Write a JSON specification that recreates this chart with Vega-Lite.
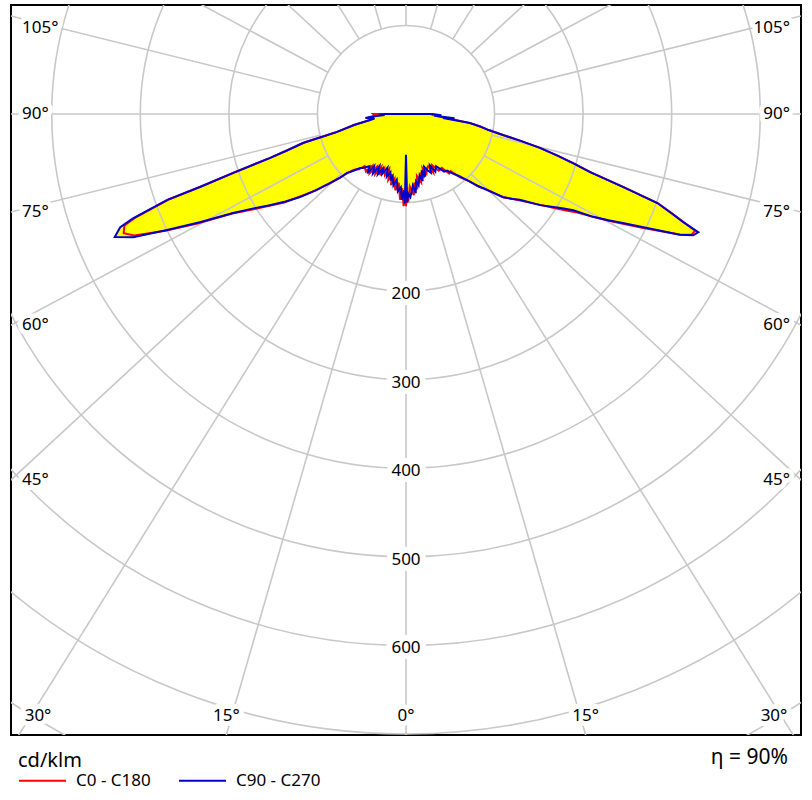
{
  "$schema": "https://vega.github.io/schema/vega-lite/v6.json",
  "width": 790,
  "height": 730,
  "autosize": {"type": "none"},
  "padding": {"left": 11, "top": 5, "right": 11, "bottom": 65},
  "background": "white",
  "config": {
    "view": {"stroke": "#000000", "strokeWidth": 2},
    "font": "Noto Sans",
    "legend": {
      "padding": 0,
      "titleFont": "Noto Sans",
      "titleFontSize": 20,
      "titleFontWeight": "normal",
      "titleColor": "#000000",
      "labelFont": "Noto Sans",
      "labelFontSize": 17,
      "labelColor": "#000000"
    }
  },
  "title": {
    "text": "η = 90%",
    "orient": "bottom",
    "anchor": "end",
    "font": "Noto Sans",
    "fontSize": 21,
    "fontWeight": "normal",
    "color": "#000000",
    "offset": -42,
    "dx": -13
  },
  "datasets": {
    "curve": [
      {"c": "C90 - C270", "g": -92, "I": 0},
      {"c": "C90 - C270", "g": -90, "I": 24},
      {"c": "C90 - C270", "g": -88.5, "I": 30},
      {"c": "C90 - C270", "g": -87.3, "I": 24},
      {"c": "C90 - C270", "g": -85.5, "I": 40},
      {"c": "C90 - C270", "g": -84.4, "I": 46},
      {"c": "C90 - C270", "g": -82, "I": 36},
      {"c": "C90 - C270", "g": -80.5, "I": 41},
      {"c": "C90 - C270", "g": -78, "I": 60},
      {"c": "C90 - C270", "g": -75.4, "I": 81},
      {"c": "C90 - C270", "g": -74.3, "I": 121},
      {"c": "C90 - C270", "g": -73, "I": 140},
      {"c": "C90 - C270", "g": -72.1, "I": 161},
      {"c": "C90 - C270", "g": -71.2, "I": 206},
      {"c": "C90 - C270", "g": -70.5, "I": 247},
      {"c": "C90 - C270", "g": -70.2, "I": 287},
      {"c": "C90 - C270", "g": -69.1, "I": 330},
      {"c": "C90 - C270", "g": -68.4, "I": 347},
      {"c": "C90 - C270", "g": -67.1, "I": 357},
      {"c": "C90 - C270", "g": -65.7, "I": 338},
      {"c": "C90 - C270", "g": -64.1, "I": 300},
      {"c": "C90 - C270", "g": -62.3, "I": 263},
      {"c": "C90 - C270", "g": -60.2, "I": 225},
      {"c": "C90 - C270", "g": -58, "I": 200},
      {"c": "C90 - C270", "g": -56.2, "I": 185},
      {"c": "C90 - C270", "g": -54, "I": 168},
      {"c": "C90 - C270", "g": -51.9, "I": 152},
      {"c": "C90 - C270", "g": -49.8, "I": 133},
      {"c": "C90 - C270", "g": -47.8, "I": 116},
      {"c": "C90 - C270", "g": -46, "I": 104},
      {"c": "C90 - C270", "g": -45, "I": 94},
      {"c": "C90 - C270", "g": -43, "I": 88},
      {"c": "C90 - C270", "g": -40.4, "I": 80},
      {"c": "C90 - C270", "g": -38.5, "I": 78},
      {"c": "C90 - C270", "g": -35, "I": 72},
      {"c": "C90 - C270", "g": -33, "I": 80},
      {"c": "C90 - C270", "g": -31.4, "I": 69},
      {"c": "C90 - C270", "g": -29, "I": 77},
      {"c": "C90 - C270", "g": -27, "I": 66},
      {"c": "C90 - C270", "g": -25, "I": 75},
      {"c": "C90 - C270", "g": -23, "I": 67},
      {"c": "C90 - C270", "g": -21.6, "I": 73},
      {"c": "C90 - C270", "g": -19, "I": 64},
      {"c": "C90 - C270", "g": -17, "I": 74},
      {"c": "C90 - C270", "g": -15, "I": 68},
      {"c": "C90 - C270", "g": -13, "I": 77},
      {"c": "C90 - C270", "g": -12, "I": 72},
      {"c": "C90 - C270", "g": -10, "I": 82},
      {"c": "C90 - C270", "g": -8, "I": 75},
      {"c": "C90 - C270", "g": -6, "I": 88},
      {"c": "C90 - C270", "g": -4, "I": 83},
      {"c": "C90 - C270", "g": -2.8, "I": 97},
      {"c": "C90 - C270", "g": -1.5, "I": 86},
      {"c": "C90 - C270", "g": -0.8, "I": 101},
      {"c": "C90 - C270", "g": 0, "I": 46},
      {"c": "C90 - C270", "g": 0.8, "I": 100},
      {"c": "C90 - C270", "g": 1.5, "I": 90},
      {"c": "C90 - C270", "g": 3, "I": 94},
      {"c": "C90 - C270", "g": 5.5, "I": 81},
      {"c": "C90 - C270", "g": 7, "I": 90},
      {"c": "C90 - C270", "g": 8.5, "I": 77},
      {"c": "C90 - C270", "g": 10, "I": 82},
      {"c": "C90 - C270", "g": 12.5, "I": 71},
      {"c": "C90 - C270", "g": 14, "I": 78},
      {"c": "C90 - C270", "g": 15.5, "I": 66},
      {"c": "C90 - C270", "g": 17, "I": 74},
      {"c": "C90 - C270", "g": 19, "I": 63},
      {"c": "C90 - C270", "g": 21, "I": 68},
      {"c": "C90 - C270", "g": 23, "I": 72},
      {"c": "C90 - C270", "g": 25, "I": 64},
      {"c": "C90 - C270", "g": 27, "I": 73},
      {"c": "C90 - C270", "g": 30, "I": 68},
      {"c": "C90 - C270", "g": 33.5, "I": 78},
      {"c": "C90 - C270", "g": 36, "I": 79},
      {"c": "C90 - C270", "g": 38, "I": 85},
      {"c": "C90 - C270", "g": 40.5, "I": 92},
      {"c": "C90 - C270", "g": 43.3, "I": 105},
      {"c": "C90 - C270", "g": 45, "I": 115},
      {"c": "C90 - C270", "g": 46.8, "I": 125},
      {"c": "C90 - C270", "g": 49.4, "I": 144},
      {"c": "C90 - C270", "g": 51, "I": 152},
      {"c": "C90 - C270", "g": 53, "I": 161},
      {"c": "C90 - C270", "g": 55.8, "I": 183},
      {"c": "C90 - C270", "g": 57.5, "I": 195},
      {"c": "C90 - C270", "g": 58.9, "I": 206},
      {"c": "C90 - C270", "g": 60.1, "I": 218},
      {"c": "C90 - C270", "g": 61.2, "I": 241},
      {"c": "C90 - C270", "g": 62.3, "I": 258},
      {"c": "C90 - C270", "g": 63.3, "I": 274},
      {"c": "C90 - C270", "g": 64.3, "I": 293},
      {"c": "C90 - C270", "g": 65.2, "I": 312},
      {"c": "C90 - C270", "g": 66.2, "I": 338},
      {"c": "C90 - C270", "g": 67.1, "I": 352},
      {"c": "C90 - C270", "g": 68, "I": 356},
      {"c": "C90 - C270", "g": 68.7, "I": 336},
      {"c": "C90 - C270", "g": 69.5, "I": 320},
      {"c": "C90 - C270", "g": 70.5, "I": 301},
      {"c": "C90 - C270", "g": 71.4, "I": 259},
      {"c": "C90 - C270", "g": 72.5, "I": 218},
      {"c": "C90 - C270", "g": 73.6, "I": 197},
      {"c": "C90 - C270", "g": 74.6, "I": 178},
      {"c": "C90 - C270", "g": 75.8, "I": 156},
      {"c": "C90 - C270", "g": 76.8, "I": 133},
      {"c": "C90 - C270", "g": 77.8, "I": 112},
      {"c": "C90 - C270", "g": 79, "I": 95},
      {"c": "C90 - C270", "g": 80.5, "I": 85},
      {"c": "C90 - C270", "g": 82, "I": 73},
      {"c": "C90 - C270", "g": 83.8, "I": 42},
      {"c": "C90 - C270", "g": 85, "I": 55},
      {"c": "C90 - C270", "g": 86.5, "I": 32},
      {"c": "C90 - C270", "g": 88, "I": 40},
      {"c": "C90 - C270", "g": 90, "I": 30},
      {"c": "C90 - C270", "g": 92, "I": 0},

      {"c": "C0 - C180", "g": -92, "I": 0},
      {"c": "C0 - C180", "g": -90, "I": 37},
      {"c": "C0 - C180", "g": -88.5, "I": 36},
      {"c": "C0 - C180", "g": -87.3, "I": 34},
      {"c": "C0 - C180", "g": -85.5, "I": 38},
      {"c": "C0 - C180", "g": -84.4, "I": 40},
      {"c": "C0 - C180", "g": -82, "I": 38},
      {"c": "C0 - C180", "g": -80.5, "I": 42},
      {"c": "C0 - C180", "g": -78, "I": 60},
      {"c": "C0 - C180", "g": -75.4, "I": 82},
      {"c": "C0 - C180", "g": -74.3, "I": 120},
      {"c": "C0 - C180", "g": -73, "I": 140},
      {"c": "C0 - C180", "g": -72.1, "I": 162},
      {"c": "C0 - C180", "g": -71.2, "I": 205},
      {"c": "C0 - C180", "g": -70.5, "I": 246},
      {"c": "C0 - C180", "g": -70.2, "I": 285},
      {"c": "C0 - C180", "g": -69.1, "I": 326},
      {"c": "C0 - C180", "g": -68.4, "I": 342},
      {"c": "C0 - C180", "g": -67.1, "I": 346},
      {"c": "C0 - C180", "g": -65.9, "I": 336},
      {"c": "C0 - C180", "g": -64.1, "I": 302},
      {"c": "C0 - C180", "g": -62.3, "I": 266},
      {"c": "C0 - C180", "g": -60.2, "I": 226},
      {"c": "C0 - C180", "g": -58, "I": 203},
      {"c": "C0 - C180", "g": -56.2, "I": 186},
      {"c": "C0 - C180", "g": -54, "I": 170},
      {"c": "C0 - C180", "g": -51.9, "I": 150},
      {"c": "C0 - C180", "g": -49.8, "I": 134},
      {"c": "C0 - C180", "g": -47.8, "I": 117},
      {"c": "C0 - C180", "g": -46, "I": 103},
      {"c": "C0 - C180", "g": -45, "I": 95},
      {"c": "C0 - C180", "g": -43, "I": 86},
      {"c": "C0 - C180", "g": -40.4, "I": 82},
      {"c": "C0 - C180", "g": -38.5, "I": 75},
      {"c": "C0 - C180", "g": -35, "I": 79},
      {"c": "C0 - C180", "g": -33, "I": 70},
      {"c": "C0 - C180", "g": -31.4, "I": 78},
      {"c": "C0 - C180", "g": -29, "I": 68},
      {"c": "C0 - C180", "g": -27, "I": 76},
      {"c": "C0 - C180", "g": -25, "I": 66},
      {"c": "C0 - C180", "g": -23, "I": 75},
      {"c": "C0 - C180", "g": -21.6, "I": 66},
      {"c": "C0 - C180", "g": -19, "I": 73},
      {"c": "C0 - C180", "g": -17, "I": 65},
      {"c": "C0 - C180", "g": -15, "I": 77},
      {"c": "C0 - C180", "g": -13, "I": 70},
      {"c": "C0 - C180", "g": -12, "I": 82},
      {"c": "C0 - C180", "g": -10, "I": 74},
      {"c": "C0 - C180", "g": -8, "I": 87},
      {"c": "C0 - C180", "g": -6, "I": 78},
      {"c": "C0 - C180", "g": -4, "I": 97},
      {"c": "C0 - C180", "g": -2.8, "I": 84},
      {"c": "C0 - C180", "g": -1.5, "I": 104},
      {"c": "C0 - C180", "g": -0.8, "I": 90},
      {"c": "C0 - C180", "g": 0, "I": 104},
      {"c": "C0 - C180", "g": 0.8, "I": 88},
      {"c": "C0 - C180", "g": 1.5, "I": 99},
      {"c": "C0 - C180", "g": 3, "I": 82},
      {"c": "C0 - C180", "g": 5.5, "I": 92},
      {"c": "C0 - C180", "g": 7, "I": 78},
      {"c": "C0 - C180", "g": 8.5, "I": 86},
      {"c": "C0 - C180", "g": 10, "I": 71},
      {"c": "C0 - C180", "g": 12.5, "I": 79},
      {"c": "C0 - C180", "g": 14, "I": 68},
      {"c": "C0 - C180", "g": 15.5, "I": 75},
      {"c": "C0 - C180", "g": 17, "I": 64},
      {"c": "C0 - C180", "g": 19, "I": 71},
      {"c": "C0 - C180", "g": 21, "I": 66},
      {"c": "C0 - C180", "g": 23, "I": 64},
      {"c": "C0 - C180", "g": 25, "I": 73},
      {"c": "C0 - C180", "g": 27, "I": 65},
      {"c": "C0 - C180", "g": 30, "I": 74},
      {"c": "C0 - C180", "g": 33.5, "I": 73},
      {"c": "C0 - C180", "g": 36, "I": 83},
      {"c": "C0 - C180", "g": 38, "I": 82},
      {"c": "C0 - C180", "g": 40.5, "I": 94},
      {"c": "C0 - C180", "g": 43.3, "I": 104},
      {"c": "C0 - C180", "g": 45, "I": 116},
      {"c": "C0 - C180", "g": 46.8, "I": 124},
      {"c": "C0 - C180", "g": 49.4, "I": 145},
      {"c": "C0 - C180", "g": 51, "I": 151},
      {"c": "C0 - C180", "g": 53, "I": 163},
      {"c": "C0 - C180", "g": 55.8, "I": 182},
      {"c": "C0 - C180", "g": 57.5, "I": 197},
      {"c": "C0 - C180", "g": 58.9, "I": 211},
      {"c": "C0 - C180", "g": 60.1, "I": 223},
      {"c": "C0 - C180", "g": 61.2, "I": 241},
      {"c": "C0 - C180", "g": 62.3, "I": 260},
      {"c": "C0 - C180", "g": 63.3, "I": 277},
      {"c": "C0 - C180", "g": 64.3, "I": 296},
      {"c": "C0 - C180", "g": 65.2, "I": 314},
      {"c": "C0 - C180", "g": 66.2, "I": 337},
      {"c": "C0 - C180", "g": 67.1, "I": 350},
      {"c": "C0 - C180", "g": 68, "I": 352},
      {"c": "C0 - C180", "g": 68.7, "I": 337},
      {"c": "C0 - C180", "g": 69.5, "I": 321},
      {"c": "C0 - C180", "g": 70.5, "I": 302},
      {"c": "C0 - C180", "g": 71.4, "I": 260},
      {"c": "C0 - C180", "g": 72.5, "I": 219},
      {"c": "C0 - C180", "g": 73.6, "I": 198},
      {"c": "C0 - C180", "g": 74.6, "I": 178},
      {"c": "C0 - C180", "g": 75.8, "I": 156},
      {"c": "C0 - C180", "g": 76.8, "I": 133},
      {"c": "C0 - C180", "g": 77.8, "I": 112},
      {"c": "C0 - C180", "g": 79, "I": 95},
      {"c": "C0 - C180", "g": 80.5, "I": 84},
      {"c": "C0 - C180", "g": 82, "I": 72},
      {"c": "C0 - C180", "g": 83.8, "I": 50},
      {"c": "C0 - C180", "g": 85, "I": 40},
      {"c": "C0 - C180", "g": 86.5, "I": 34},
      {"c": "C0 - C180", "g": 88, "I": 30},
      {"c": "C0 - C180", "g": 90, "I": 28},
      {"c": "C0 - C180", "g": 92, "I": 0}
    ],
    "circles": [
      {"r": 100}, {"r": 200}, {"r": 300}, {"r": 400}, {"r": 500},
      {"r": 600}, {"r": 700}, {"r": 800}, {"r": 900}
    ],
    "spokes": [
      {"a": 0, "s": 1},
      {"a": 15, "s": -1}, {"a": 15, "s": 1},
      {"a": 30, "s": -1}, {"a": 30, "s": 1},
      {"a": 45, "s": -1}, {"a": 45, "s": 1},
      {"a": 60, "s": -1}, {"a": 60, "s": 1},
      {"a": 75, "s": -1}, {"a": 75, "s": 1},
      {"a": 90, "s": -1}, {"a": 90, "s": 1},
      {"a": 105, "s": -1}, {"a": 105, "s": 1},
      {"a": 120, "s": -1}, {"a": 120, "s": 1},
      {"a": 135, "s": -1}, {"a": 135, "s": 1},
      {"a": 150, "s": -1}, {"a": 150, "s": 1},
      {"a": 165, "s": -1}, {"a": 165, "s": 1},
      {"a": 180, "s": 1}
    ],
    "rlabels": [
      {"v": 200, "t": "200"}, {"v": 300, "t": "300"}, {"v": 400, "t": "400"},
      {"v": 500, "t": "500"}, {"v": 600, "t": "600"}
    ],
    "alabels": [
      {"a": 105, "s": -1, "t": "105°"}, {"a": 105, "s": 1, "t": "105°"},
      {"a": 90, "s": -1, "t": "90°"}, {"a": 90, "s": 1, "t": "90°"},
      {"a": 75, "s": -1, "t": "75°"}, {"a": 75, "s": 1, "t": "75°"},
      {"a": 60, "s": -1, "t": "60°"}, {"a": 60, "s": 1, "t": "60°"},
      {"a": 45, "s": -1, "t": "45°"}, {"a": 45, "s": 1, "t": "45°"},
      {"a": 30, "s": -1, "t": "30°"}, {"a": 30, "s": 1, "t": "30°"},
      {"a": 15, "s": -1, "t": "15°"}, {"a": 15, "s": 1, "t": "15°"},
      {"a": 0, "s": 1, "t": "0°"}
    ]
  },
  "layer": [
    {
      "data": {"name": "curve"},
      "transform": [
        {"filter": "datum.c == 'C90 - C270'"},
        {"calculate": "datum.I*sin(datum.g*PI/180)", "as": "x"},
        {"calculate": "-datum.I*cos(datum.g*PI/180)", "as": "y"}
      ],
      "mark": {"type": "line", "fill": "#ffff00", "stroke": "#ffff00", "strokeWidth": 0.5, "clip": true},
      "encoding": {
        "x": {"field": "x", "type": "quantitative", "scale": {"domain": [-446, 446], "nice": false, "zero": false}, "axis": null},
        "y": {"field": "y", "type": "quantitative", "scale": {"domain": [-701.1, 123.07], "nice": false, "zero": false}, "axis": null},
        "order": {"field": "g", "type": "quantitative"}
      }
    },
    {
      "data": {"name": "circles"},
      "mark": {"type": "arc", "theta": 0, "theta2": 7, "filled": false, "stroke": "#c8c8c8", "strokeWidth": 1.6, "clip": true},
      "encoding": {
        "x": {"datum": 0, "type": "quantitative", "scale": {"domain": [-446, 446], "nice": false, "zero": false}},
        "y": {"datum": 0, "type": "quantitative", "scale": {"domain": [-701.1, 123.07], "nice": false, "zero": false}},
        "radius": {"field": "r", "type": "quantitative", "stack": null, "scale": {"type": "linear", "domain": [0, 1000], "range": [0, 885.7], "zero": true}, "legend": null}
      }
    },
    {
      "data": {"name": "spokes"},
      "transform": [
        {"calculate": "atan2(1.08*sin(datum.a*PI/180), cos(datum.a*PI/180))", "as": "phi"},
        {"calculate": "datum.s*100*sin(datum.phi)", "as": "x0"},
        {"calculate": "-100*cos(datum.phi)", "as": "y0"},
        {"calculate": "datum.s*1300*sin(datum.phi)", "as": "x1"},
        {"calculate": "-1300*cos(datum.phi)", "as": "y1"}
      ],
      "mark": {"type": "rule", "color": "#c8c8c8", "strokeWidth": 1.6, "clip": true},
      "encoding": {
        "x": {"field": "x0", "type": "quantitative", "scale": {"domain": [-446, 446], "nice": false, "zero": false}},
        "y": {"field": "y0", "type": "quantitative", "scale": {"domain": [-701.1, 123.07], "nice": false, "zero": false}},
        "x2": {"field": "x1"},
        "y2": {"field": "y1"}
      }
    },
    {
      "data": {"name": "curve"},
      "transform": [
        {"filter": "datum.c == 'C0 - C180'"},
        {"calculate": "datum.I*sin(datum.g*PI/180)", "as": "x"},
        {"calculate": "-datum.I*cos(datum.g*PI/180)", "as": "y"}
      ],
      "mark": {"type": "line", "strokeWidth": 2, "clip": true},
      "encoding": {
        "x": {"field": "x", "type": "quantitative", "scale": {"domain": [-446, 446], "nice": false, "zero": false}},
        "y": {"field": "y", "type": "quantitative", "scale": {"domain": [-701.1, 123.07], "nice": false, "zero": false}},
        "order": {"field": "g", "type": "quantitative"},
        "color": {
          "field": "c", "type": "nominal",
          "scale": {"domain": ["C0 - C180", "C90 - C270"], "range": ["#ff0000", "#0000cc"]},
          "legend": {
            "title": "cd/klm",
            "orient": "none",
            "legendX": 7,
            "legendY": 746,
            "direction": "horizontal",
            "symbolType": "stroke",
            "symbolSize": 2209,
            "symbolStrokeWidth": 2,
            "labelOffset": 9,
            "columnPadding": 24,
            "titlePadding": -15
          }
        }
      }
    },
    {
      "data": {"name": "curve"},
      "transform": [
        {"filter": "datum.c == 'C90 - C270'"},
        {"calculate": "datum.I*sin(datum.g*PI/180)", "as": "x"},
        {"calculate": "-datum.I*cos(datum.g*PI/180)", "as": "y"}
      ],
      "mark": {"type": "line", "strokeWidth": 2, "clip": true},
      "encoding": {
        "x": {"field": "x", "type": "quantitative", "scale": {"domain": [-446, 446], "nice": false, "zero": false}},
        "y": {"field": "y", "type": "quantitative", "scale": {"domain": [-701.1, 123.07], "nice": false, "zero": false}},
        "order": {"field": "g", "type": "quantitative"},
        "color": {"field": "c", "type": "nominal"}
      }
    },
    {
      "data": {"name": "rlabels"},
      "transform": [{"calculate": "-datum.v", "as": "y"}],
      "mark": {"type": "text", "fontSize": 17, "font": "Noto Sans", "baseline": "middle", "align": "center", "dy": 3, "fill": "#ffffff", "stroke": "#ffffff", "strokeWidth": 12, "strokeJoin": "round"},
      "encoding": {
        "x": {"datum": 0, "type": "quantitative", "scale": {"domain": [-446, 446], "nice": false, "zero": false}},
        "y": {"field": "y", "type": "quantitative", "scale": {"domain": [-701.1, 123.07], "nice": false, "zero": false}},
        "text": {"field": "t"}
      }
    },
    {
      "data": {"name": "rlabels"},
      "transform": [{"calculate": "-datum.v", "as": "y"}],
      "mark": {"type": "text", "fontSize": 17, "font": "Noto Sans", "baseline": "middle", "align": "center", "dy": 3, "color": "#000000"},
      "encoding": {
        "x": {"datum": 0, "type": "quantitative", "scale": {"domain": [-446, 446], "nice": false, "zero": false}},
        "y": {"field": "y", "type": "quantitative", "scale": {"domain": [-701.1, 123.07], "nice": false, "zero": false}},
        "text": {"field": "t"}
      }
    },
    {
      "data": {"name": "alabels"},
      "transform": [
        {"calculate": "atan2(1.08*sin(datum.a*PI/180), cos(datum.a*PI/180))", "as": "phi"},
        {"calculate": "446/max(sin(datum.phi), 1e-9)", "as": "tS"},
        {"calculate": "cos(datum.phi) > 0 ? 701.1/cos(datum.phi) : 1e9", "as": "tB"},
        {"calculate": "datum.tS <= datum.tB", "as": "side"},
        {"calculate": "datum.side ? datum.s*433.6 : datum.s*min(701.1*tan(datum.phi), 415.5)", "as": "lx"},
        {"calculate": "datum.side ? min(-446*cos(datum.phi)/sin(datum.phi), 97) : -679.6", "as": "ly"}
      ],
      "layer": [
        {
          "transform": [{"filter": "datum.side && datum.s < 0"}],
          "mark": {"type": "text", "fontSize": 17, "font": "Noto Sans", "baseline": "middle", "align": "left", "fill": "#ffffff", "stroke": "#ffffff", "strokeWidth": 10, "strokeJoin": "round"},
          "encoding": {
            "x": {"field": "lx", "type": "quantitative", "scale": {"domain": [-446, 446], "nice": false, "zero": false}},
            "y": {"field": "ly", "type": "quantitative", "scale": {"domain": [-701.1, 123.07], "nice": false, "zero": false}},
            "text": {"field": "t"}
          }
        },
        {
          "transform": [{"filter": "datum.side && datum.s > 0"}],
          "mark": {"type": "text", "fontSize": 17, "font": "Noto Sans", "baseline": "middle", "align": "right", "fill": "#ffffff", "stroke": "#ffffff", "strokeWidth": 10, "strokeJoin": "round"},
          "encoding": {
            "x": {"field": "lx", "type": "quantitative", "scale": {"domain": [-446, 446], "nice": false, "zero": false}},
            "y": {"field": "ly", "type": "quantitative", "scale": {"domain": [-701.1, 123.07], "nice": false, "zero": false}},
            "text": {"field": "t"}
          }
        },
        {
          "transform": [{"filter": "!datum.side"}],
          "mark": {"type": "text", "fontSize": 17, "font": "Noto Sans", "baseline": "middle", "align": "center", "fill": "#ffffff", "stroke": "#ffffff", "strokeWidth": 10, "strokeJoin": "round"},
          "encoding": {
            "x": {"field": "lx", "type": "quantitative", "scale": {"domain": [-446, 446], "nice": false, "zero": false}},
            "y": {"field": "ly", "type": "quantitative", "scale": {"domain": [-701.1, 123.07], "nice": false, "zero": false}},
            "text": {"field": "t"}
          }
        },
        {
          "transform": [{"filter": "datum.side && datum.s < 0"}],
          "mark": {"type": "text", "fontSize": 17, "font": "Noto Sans", "baseline": "middle", "align": "left", "color": "#000000"},
          "encoding": {
            "x": {"field": "lx", "type": "quantitative", "scale": {"domain": [-446, 446], "nice": false, "zero": false}},
            "y": {"field": "ly", "type": "quantitative", "scale": {"domain": [-701.1, 123.07], "nice": false, "zero": false}},
            "text": {"field": "t"}
          }
        },
        {
          "transform": [{"filter": "datum.side && datum.s > 0"}],
          "mark": {"type": "text", "fontSize": 17, "font": "Noto Sans", "baseline": "middle", "align": "right", "color": "#000000"},
          "encoding": {
            "x": {"field": "lx", "type": "quantitative", "scale": {"domain": [-446, 446], "nice": false, "zero": false}},
            "y": {"field": "ly", "type": "quantitative", "scale": {"domain": [-701.1, 123.07], "nice": false, "zero": false}},
            "text": {"field": "t"}
          }
        },
        {
          "transform": [{"filter": "!datum.side"}],
          "mark": {"type": "text", "fontSize": 17, "font": "Noto Sans", "baseline": "middle", "align": "center", "color": "#000000"},
          "encoding": {
            "x": {"field": "lx", "type": "quantitative", "scale": {"domain": [-446, 446], "nice": false, "zero": false}},
            "y": {"field": "ly", "type": "quantitative", "scale": {"domain": [-701.1, 123.07], "nice": false, "zero": false}},
            "text": {"field": "t"}
          }
        }
      ]
    }
  ]
}
